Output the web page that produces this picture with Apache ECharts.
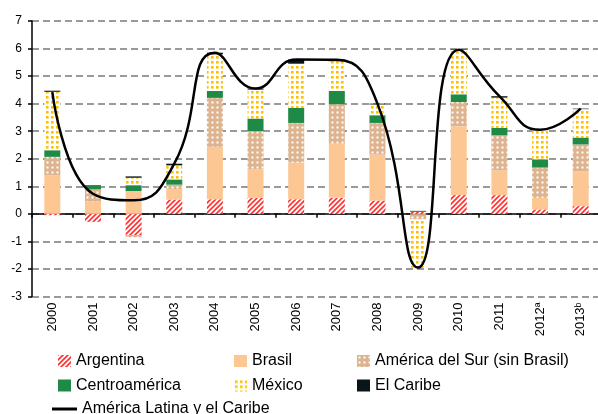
<!DOCTYPE html>
<html>
<head>
<meta charset="utf-8">
<script src="https://cdn.jsdelivr.net/npm/echarts@6/dist/echarts.min.js"></script>
<style>
  html, body { margin: 0; padding: 0; background: #fff; }
  #chart { width: 598px; height: 414px; }
</style>
</head>
<body>
<div id="chart"></div>
<script>
const years = ['2000', '2001', '2002', '2003', '2004', '2005', '2006', '2007', '2008', '2009', '2010', '2011', '2012ª', '2013ᵇ']
const argentina = [-0.05, -0.29, -0.77, 0.52, 0.53, 0.58, 0.53, 0.58, 0.48, 0.07, 0.68, 0.68, 0.16, 0.28]
const brasil = [1.40, 0.44, 0.83, 0.37, 1.90, 1.04, 1.33, 1.97, 1.67, -0.03, 2.50, 0.90, 0.42, 1.27]
const amSur = [0.67, 0.45, -0.08, 0.17, 1.78, 1.38, 1.44, 1.43, 1.15, -0.17, 0.88, 1.27, 1.10, 0.97]
const centro = [0.24, 0.13, 0.21, 0.19, 0.25, 0.46, 0.55, 0.48, 0.28, 0.04, 0.28, 0.27, 0.30, 0.25]
const mexico = [2.12, 0, 0.27, 0.51, 1.33, 1.05, 1.60, 1.08, 0.39, -1.76, 1.62, 1.10, 1.06, 1.03]
const caribe = [0.04, 0.02, 0.05, 0.06, 0.06, 0.04, 0.15, 0.05, 0.03, 0, 0.02, 0.05, 0.02, 0.02]
const total = [4.42, 0.73, 0.49, 1.82, 5.85, 4.55, 5.60, 5.59, 4.00, -1.95, 5.96, 4.27, 3.05, 3.82]
const yTicks = [-3, -2, -1, 0, 1, 2, 3, 4, 5, 6, 7]

const font = '"Liberation Sans", Arial, sans-serif'

// small canvas tiles used as fill patterns
function tile(size, bg, draw) {
  const c = document.createElement('canvas')
  c.width = c.height = size
  const ctx = c.getContext('2d')
  if (bg) {
    ctx.fillStyle = bg
    ctx.fillRect(0, 0, size, size)
  }
  draw(ctx)
  return { image: c, repeat: 'repeat' }
}

const hatchRed = tile(5, '#fff', function(ctx) {
  ctx.strokeStyle = '#ff3333'
  ctx.lineWidth = 1.7
  ctx.beginPath()
  ctx.moveTo(-1, 6); ctx.lineTo(6, -1)
  ctx.moveTo(-1, 1); ctx.lineTo(1, -1)
  ctx.moveTo(4, 6); ctx.lineTo(6, 4)
  ctx.stroke()
})
const dotsTan = tile(5, '#ddb48f', function(ctx) {
  ctx.fillStyle = '#fff'
  ctx.fillRect(1.5, 1.5, 2, 2)
})
const dotsYellow = tile(5, '#fff', function(ctx) {
  ctx.fillStyle = '#ffc000'
  ctx.fillRect(1, 1, 2.6, 2.6)
})

function bar(name, data, color) {
  return {
    name: name,
    type: 'bar',
    stack: 'total',
    barWidth: 16,
    data: data,
    itemStyle: { color: color }
  }
}

const chart = echarts.init(document.getElementById('chart'))
const legendText = { fontFamily: font, fontSize: 16, color: '#000', lineHeight: 16 }
const boxLegend = { orient: 'vertical', top: 353, padding: 0, itemWidth: 13, itemHeight: 12, itemGap: 8.5, icon: 'rect', textStyle: legendText }
chart.setOption({
  animation: false,
  backgroundColor: '#fff',
  grid: {
    left: 32,
    top: 21,
    width: 569,
    height: 275.5,
    containLabel: false,
    outerBoundsMode: 'none'
  },
  legend: [
    Object.assign({ left: 58, data: ['Argentina', 'Centroamérica'] }, boxLegend),
    Object.assign({ left: 234, data: ['Brasil', 'México'] }, boxLegend),
    Object.assign({ left: 357, data: ['América del Sur (sin Brasil)', 'El Caribe'] }, boxLegend),
    { left: 52, top: 401, padding: 0, itemWidth: 25, itemHeight: 3, icon: 'rect',
      textStyle: legendText, data: ['América Latina y el Caribe'] }
  ],
  xAxis: [{
    type: 'category',
    data: years,
    position: 'bottom',
    axisLine: { onZero: true, lineStyle: { color: '#000', width: 1.5 } },
    axisTick: { show: true, length: 4, lineStyle: { color: '#000', width: 1.5 } },
    axisLabel: { show: false }
  }, {
    type: 'category',
    data: years,
    position: 'bottom',
    axisLine: { show: false, onZero: false },
    axisTick: { show: false },
    axisLabel: {
      rotate: 90,
      margin: 6,
      interval: 0,
      fontFamily: font,
      fontSize: 13,
      color: '#000'
    }
  }],
  yAxis: {
    type: 'value',
    min: yTicks[0],
    max: yTicks[yTicks.length - 1],
    interval: 1,
    axisLine: { show: true, lineStyle: { color: '#000', width: 1.5 } },
    axisTick: { show: true, length: 4, lineStyle: { color: '#000', width: 1.5 } },
    axisLabel: { margin: 10, fontFamily: font, fontSize: 12, color: '#000' },
    splitLine: { show: true, lineStyle: { color: '#7a7a7a', width: 1.5, type: [7, 4] } }
  },
  series: [
    bar('Argentina', argentina, hatchRed),
    bar('Brasil', brasil, '#fdc793'),
    bar('América del Sur (sin Brasil)', amSur, dotsTan),
    bar('Centroamérica', centro, '#1f8a45'),
    bar('México', mexico, dotsYellow),
    bar('El Caribe', caribe, '#08161a'),
    {
      name: 'América Latina y el Caribe',
      type: 'line',
      data: total,
      smooth: 0.5,
      symbol: 'none',
      z: 5,
      lineStyle: { color: '#000', width: 2.5 },
      itemStyle: { color: '#000' }
    }
  ]
})
</script>
</body>
</html>
